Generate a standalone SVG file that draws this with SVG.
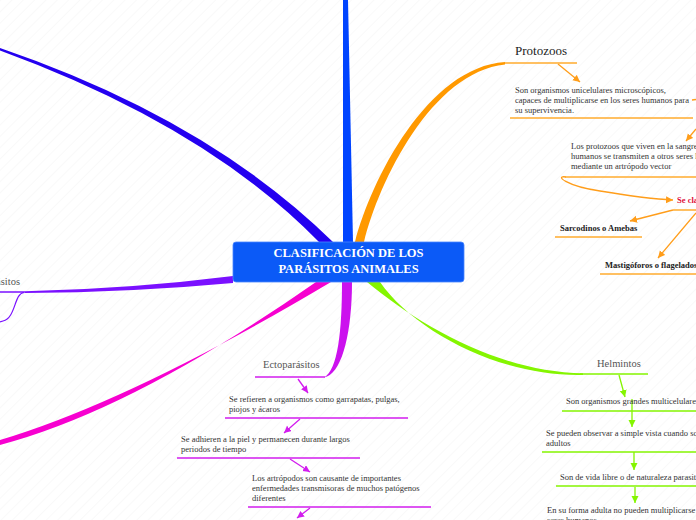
<svg xmlns="http://www.w3.org/2000/svg" width="696" height="520" viewBox="0 0 696 520">
<defs>
<pattern id="hatch" width="8" height="8" patternUnits="userSpaceOnUse" patternTransform="rotate(45)">
<line x1="0" y1="0" x2="0" y2="8" stroke="#f4f4f4" stroke-width="1"/>
</pattern>
<marker id="aO" markerUnits="userSpaceOnUse" markerWidth="8" markerHeight="8" refX="7" refY="3.5" orient="auto"><path d="M0,0 L7,3.5 L0,7 z" fill="#ff9d1a"/></marker>
<marker id="aP" markerUnits="userSpaceOnUse" markerWidth="8" markerHeight="8" refX="7" refY="3.5" orient="auto"><path d="M0,0 L7,3.5 L0,7 z" fill="#d21cee"/></marker>
<marker id="aG" markerUnits="userSpaceOnUse" markerWidth="8" markerHeight="8" refX="7" refY="3.5" orient="auto"><path d="M0,0 L7,3.5 L0,7 z" fill="#84f500"/></marker>
</defs>
<style>
.t{font-family:"Liberation Serif","Times New Roman",serif;font-size:8.5px;fill:#333}
.b{font-family:"Liberation Serif","Times New Roman",serif;font-size:8.5px;font-weight:bold;fill:#222}
.m{font-family:"Liberation Serif","Times New Roman",serif;font-size:10.5px;fill:#555}
.c{font-family:"Liberation Serif","Times New Roman",serif;font-size:12.5px;font-weight:bold;fill:#fff}
.lo{fill:none;stroke:#ff9d1a;stroke-width:1.3}
.lp{fill:none;stroke:#d21cee;stroke-width:1.3}
.lg{fill:none;stroke:#84f500;stroke-width:1.3}
.uo{fill:none;stroke:#ffab2e;stroke-width:1.5}
.up{fill:none;stroke:#d21cee;stroke-width:1.5}
.ug{fill:none;stroke:#84f500;stroke-width:1.5}
</style>
<rect width="696" height="520" fill="#fff"/>
<rect width="696" height="520" fill="url(#hatch)"/>

<g id="connectors">
<!-- main branches -->
<path d="M343,0 L348,0 L353,242 L343,242 z" fill="#0044ff"/>
<path d="M0,48 Q208,119 333,242 L319,242 Q206,126 0,50.5 z" fill="#2400f0"/>
<path d="M355,242 C371,180 428,67 505,62 L505,64.5 C432,72 379,181 364,242 z" fill="#ff9900"/>
<path d="M25,291.3 Q130,289 233,276 L233,283 Q130,292.5 25,293 z" fill="#7a10ff"/>
<path d="M0,440 Q133,400 331,282 L316,282 Q133,410 0,445 z" fill="#f700d0"/>
<path d="M342,282 C342,330 338,370 324,377.5 L327,376.5 C343,370 352,330 352,282 z" fill="#cc11ee"/>
<path d="M367,282 C420,326 500,372 583,373.3 L583,375 C500,377 414,331 380,282 z" fill="#84f500"/>

<!-- endoparasitos sub -->
<path d="M24,292.5 C14,293 16,318 3,321 L0,322" fill="none" stroke="#7a10ff" stroke-width="1.2"/>

<!-- protozoos sub -->
<path class="lo" d="M558,64 L580,82" marker-end="url(#aO)"/>
<path class="lo" d="M692,100 L696,99.5"/>
<path class="lo" d="M696,129 L686,141" marker-end="url(#aO)"/>
<path class="lo" d="M566,177 C554,175 566,186 600,191 C630,196 650,199 673,200" marker-end="url(#aO)"/>
<path class="lo" d="M673,210 L630,221" marker-end="url(#aO)"/>
<path class="lo" d="M696,213 L658,258" marker-end="url(#aO)"/>

<!-- ecto sub -->
<path class="lp" d="M298,379 L308,393" marker-end="url(#aP)"/>
<path class="lp" d="M300,419 L284,433" marker-end="url(#aP)"/>
<path class="lp" d="M290,459 L310,472" marker-end="url(#aP)"/>
<path class="lp" d="M310,508 L297,518" marker-end="url(#aP)"/>

<!-- helmintos sub -->
<path class="lg" d="M619,375 L625,397" marker-end="url(#aG)"/>
<path class="lg" d="M632,399 L632,427" marker-end="url(#aG)"/>
<path class="lg" d="M634,452 L634,470" marker-end="url(#aG)"/>
<path class="lg" d="M635,487 L635,503" marker-end="url(#aG)"/>
</g>

<g id="center">
<rect x="233" y="242" width="231" height="40" rx="3" fill="#0b5af7" stroke="#4a86ff" stroke-width="0.8"/>
<text class="c" x="348.5" y="257" text-anchor="middle">CLASIFICACIÓN DE LOS</text>
<text class="c" x="348.5" y="273" text-anchor="middle">PARÁSITOS ANIMALES</text>
</g>

<g id="protozoos">
<text x="515" y="55" font-family="Liberation Serif, serif" font-size="13" fill="#222">Protozoos</text>
<path class="uo" d="M505,63 L577,63"/>
</g>
<g id="proto1">
<text class="t" x="515" y="93">Son organismos unicelulares microscópicos,</text>
<text class="t" x="515" y="103">capaces de multiplicarse en los seres humanos para</text>
<text class="t" x="515" y="113">su supervivencia.</text>
<path class="uo" d="M510,118 L693,118"/>
</g>
<g id="proto2">
<text class="t" x="571" y="149">Los protozoos que viven en la sangre de los</text>
<text class="t" x="571" y="159">humanos se transmiten a otros seres humanos</text>
<text class="t" x="571" y="169">mediante un artrópodo vector</text>
<path class="uo" d="M565,177 L696,177"/>
</g>
<g id="proto3">
<text class="b" x="677" y="203" fill="#e0103c" style="fill:#e0103c">Se clasifican en</text>
<path class="uo" d="M673,210 L696,210"/>
</g>
<g id="sarcodinos">
<text class="b" x="560" y="231">Sarcodinos o Amebas</text>
<path class="uo" d="M555,237 L642,237"/>
</g>
<g id="mastigoforos">
<text class="b" x="605" y="268">Mastigóforos o flagelados</text>
<path class="uo" d="M600,274 L696,274"/>
</g>

<g id="endoparasitos">
<text class="m" x="20" y="285" text-anchor="end">Endoparásitos</text>
<path d="M0,292 L25,292" fill="none" stroke="#7a10ff" stroke-width="1.5"/>
</g>

<g id="ectoparasitos">
<text class="m" x="263" y="368">Ectoparásitos</text>
<path class="up" d="M255,377 L325,377"/>
</g>
<g id="ecto1">
<text class="t" x="229" y="402">Se refieren a organismos como garrapatas, pulgas,</text>
<text class="t" x="229" y="412">piojos y ácaros</text>
<path class="up" d="M225,418 L408,418"/>
</g>
<g id="ecto2">
<text class="t" x="181" y="442">Se adhieren a la piel y permanecen durante largos</text>
<text class="t" x="181" y="452">periodos de tiempo</text>
<path class="up" d="M177,458 L360,458"/>
</g>
<g id="ecto3">
<text class="t" x="252" y="481">Los artrópodos son causante de importantes</text>
<text class="t" x="252" y="491">enfermedades transmisoras de muchos patógenos</text>
<text class="t" x="252" y="501">diferentes</text>
<path class="up" d="M248,507 L431,507"/>
</g>

<g id="helmintos">
<text class="m" x="597" y="367">Helmintos</text>
<path class="ug" d="M580,374 L648,374"/>
</g>
<g id="helm1">
<text class="t" x="566" y="404">Son organismos grandes multicelulares</text>
<path class="ug" d="M562,411 L696,411"/>
</g>
<g id="helm2">
<text class="t" x="546" y="436">Se pueden observar a simple vista cuando son</text>
<text class="t" x="546" y="446">adultos</text>
<path class="ug" d="M542,452 L696,452"/>
</g>
<g id="helm3">
<text class="t" x="560" y="480">Son de vida libre o de naturaleza parasitaria</text>
<path class="ug" d="M556,486 L696,486"/>
</g>
<g id="helm4">
<text class="t" x="547" y="513">En su forma adulta no pueden multiplicarse en los</text>
<text class="t" x="547" y="523">seres humanos</text>
</g>
</svg>
